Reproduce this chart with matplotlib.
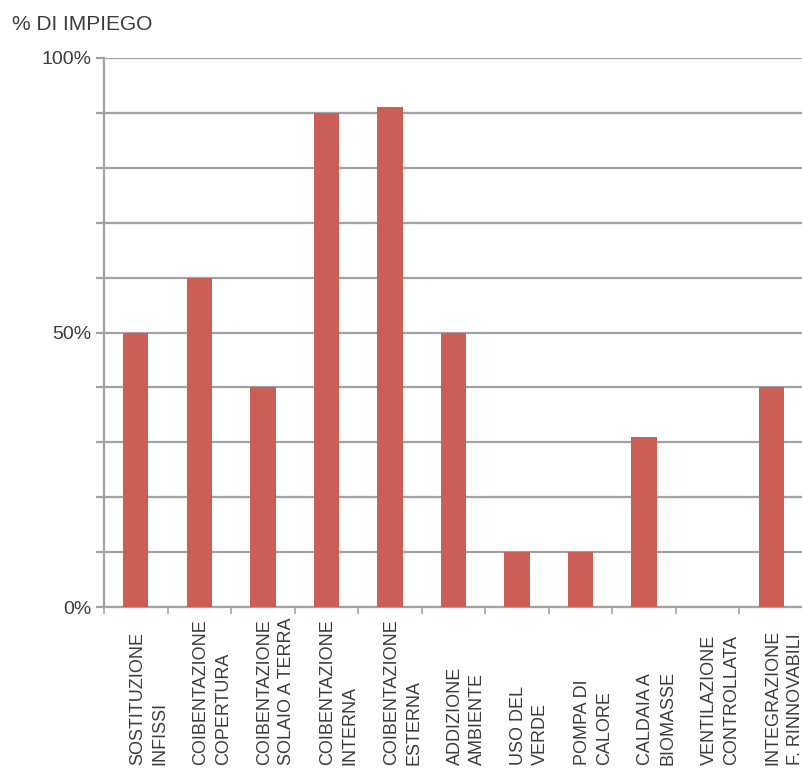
import matplotlib.pyplot as plt
from matplotlib.ticker import MultipleLocator, FixedLocator
from matplotlib.transforms import blended_transform_factory
import numpy as np

plt.rcParams['font.family'] = ['Liberation Sans', 'DejaVu Sans']

categories = [
    'SOSTITUZIONE\nINFISSI',
    'COIBENTAZIONE\nCOPERTURA',
    'COIBENTAZIONE\nSOLAIO A TERRA',
    'COIBENTAZIONE\nINTERNA',
    'COIBENTAZIONE\nESTERNA',
    'ADDIZIONE\nAMBIENTE',
    'USO DEL\nVERDE',
    'POMPA DI\nCALORE',
    'CALDAIA A\nBIOMASSE',
    'VENTILAZIONE\nCONTROLLATA',
    'INTEGRAZIONE\nF. RINNOVABILI',
]
impiego = [50, 60, 40, 90, 91, 50, 10, 10, 31, 0, 40]
y_ticks = [0, 50, 100]
y_tick_labels = ['0%', '50%', '100%']

BAR_COLOR = '#CB5E55'
GRID_COLOR = '#A3A3A3'
TEXT_COLOR = '#3C3C3C'

fig = plt.figure(figsize=(8.03, 7.69), dpi=100)
ax = fig.add_axes([104 / 803, 1 - 607 / 769, 1 - 104 / 803, (607 - 58) / 769])

x = np.arange(len(categories))
ax.bar(x, impiego, width=0.4, color=BAR_COLOR, zorder=3)

ax.set_xlim(-0.5, len(categories) - 0.5)
ax.set_ylim(0, 100)

# horizontal grid every 10%, labels only at 0 / 50 / 100
ax.yaxis.set_major_locator(FixedLocator(y_ticks))
ax.set_yticklabels(y_tick_labels)
ax.yaxis.set_minor_locator(MultipleLocator(10))
ax.grid(axis='y', which='both', color=GRID_COLOR, lw=1.6, zorder=1)
ax.tick_params(axis='y', which='both', length=6, width=1.6, color=GRID_COLOR,
               labelsize=14, labelcolor=TEXT_COLOR, pad=3)

# category separators on the x axis, labels drawn separately
ax.set_xticks(np.arange(len(categories) + 1) - 0.5)
ax.set_xticklabels([])
ax.tick_params(axis='x', length=5, width=1.2, color=GRID_COLOR)

for side in ['top', 'right']:
    ax.spines[side].set_visible(False)
for side in ['left', 'bottom']:
    ax.spines[side].set_color(GRID_COLOR)
    ax.spines[side].set_linewidth(1.6)

# vertical category names, all starting from the bottom edge
trans = blended_transform_factory(ax.transData, fig.transFigure)
for xi, label in zip(x, categories):
    ax.text(xi + 0.2, 4 / 769, label, transform=trans, rotation=90,
            rotation_mode='anchor', ha='left', va='center',
            multialignment='left', fontsize=13, color=TEXT_COLOR,
            linespacing=1.4, clip_on=False)

fig.text(12 / 803, 1 - 24 / 769, '% DI IMPIEGO', fontsize=15,
         color=TEXT_COLOR, va='center', ha='left')

fig.savefig('out.png', dpi=100)
